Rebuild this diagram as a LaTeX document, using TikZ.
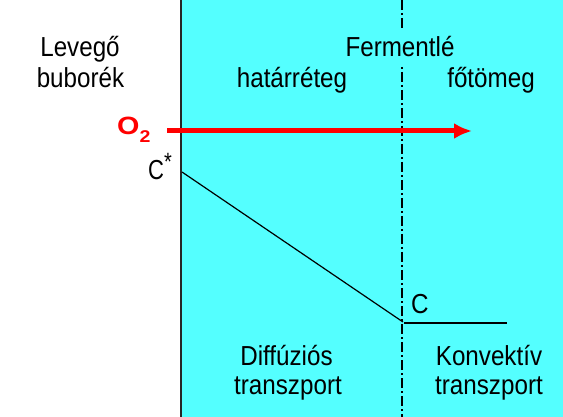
\documentclass[tikz,border=0pt]{standalone}
\usepackage{fontspec}
\setmainfont{Liberation Sans}
\usetikzlibrary{arrows.meta}
\definecolor{bgcyan}{RGB}{84,255,255}
\begin{document}
\begin{tikzpicture}[x=1pt,y=-1pt,
  lbl/.style={font=\fontsize{27.5}{28}\selectfont, inner sep=0pt, anchor=base, xscale=0.88},
  ]
\useasboundingbox (0,0) rectangle (563,417);
\fill[white] (0,0) rectangle (563,417);
\fill[bgcyan] (182,0) rectangle (563,417);
\draw[line width=2.5pt, black!85] (181,0) -- (181,417);
\draw[line width=1.6pt, dash pattern=on 10pt off 3pt on 2pt off 3pt] (402,0) -- (402,417);
% labels
\node[lbl] (lev) at (80,57) {Levegő};
\node[lbl] (bub) at (80.5,88) {buborék};
\node[lbl, fill=bgcyan, inner ysep=9pt] (fer) at (400,57) {Fermentlé};
\node[lbl] (hat) at (292,88) {határréteg};
\node[lbl] (fot) at (491,88) {főtömeg};
\node[lbl] (dif) at (286.5,365) {Diffúziós};
\node[lbl] (tr1) at (288,394) {transzport};
\node[lbl] (kon) at (489,365) {Konvektív};
\node[lbl] (tr2) at (489,394) {transzport};
\node[inner sep=0pt, anchor=base west, text=red, xscale=1.15,
  font=\fontsize{25}{26}\selectfont\bfseries] (o2) at (117,134.5)
  {O\raisebox{-8.5pt}{\fontsize{17}{17}\selectfont 2}};
\node[inner sep=0pt, anchor=base west, xscale=0.8,
  font=\fontsize{27.5}{28}\selectfont] (cs) at (148,180)
  {C\raisebox{9pt}{\fontsize{25}{25}\selectfont *}};
\node[lbl, anchor=base west] (c) at (411,313) {C};
% arrow
\coordinate (a0) at (167,131);
\coordinate (a1) at (472,131);
\draw[red, line width=5pt, -{Latex[length=18pt,width=16pt]}] (a0) -- (a1);
% profile
\coordinate (p0) at (182,172);
\coordinate (p1) at (403,322);
\coordinate (p2) at (404,323);
\coordinate (p3) at (507,323);
\draw[line width=1.2pt] (p0) -- (p1);
\draw[line width=2pt] (p2) -- (p3);
\end{tikzpicture}
\end{document}
